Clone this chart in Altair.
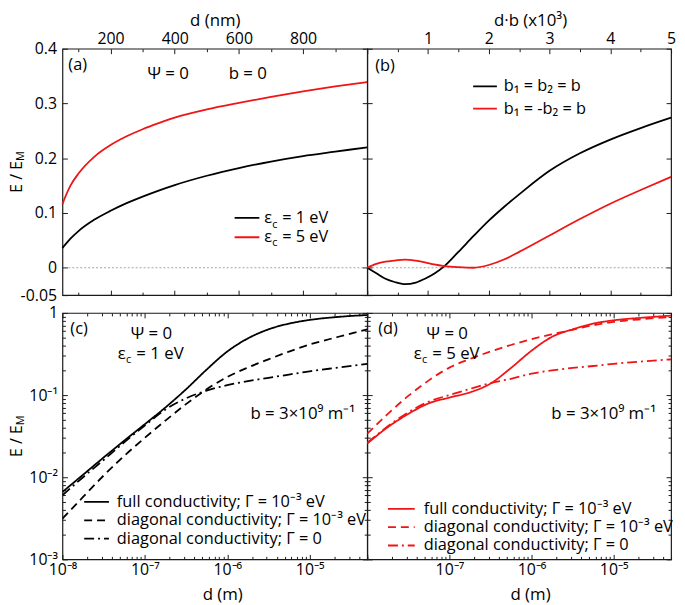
import altair as alt
import pandas as pd

FONT = "Open Sans"
BLACK = "#000000"
RED = "#f01414"
FRAME = "#1a1a1a"

# ---------------- data ----------------
# (a) d in nm, b = 0
d_nm = [50, 60, 75, 100, 150, 200, 250, 300, 350, 400, 500, 600, 700, 800, 900, 1000]
Ea_1eV = [0.036, 0.043, 0.053, 0.067, 0.088, 0.104, 0.118, 0.130, 0.141, 0.151, 0.168, 0.182, 0.194, 0.204, 0.212, 0.220]
Ea_5eV = [0.116, 0.131, 0.150, 0.172, 0.203, 0.224, 0.240, 0.253, 0.264, 0.274, 0.289, 0.301, 0.312, 0.322, 0.331, 0.339]

# (b) d*b (x10^3)
db = [0, 0.15, 0.3, 0.45, 0.62, 0.8, 0.95, 1.1, 1.27, 1.5, 1.75, 2.0, 2.25, 2.5, 3.0, 3.5, 4.0, 4.5, 5.0]
Eb_same = [0, -0.010, -0.020, -0.026, -0.030, -0.027, -0.020, -0.011, 0.003, 0.029, 0.058, 0.086, 0.111, 0.134, 0.177, 0.209, 0.234, 0.255, 0.274]
Eb_opp = [0, 0.007, 0.011, 0.013, 0.015, 0.013, 0.010, 0.006, 0.003, 0.001, 0.000, 0.005, 0.015, 0.029, 0.059, 0.089, 0.117, 0.142, 0.166]

# (c), (d) d in m, b = 3e9 1/m
d_m = [1.0e-8, 1.78e-8, 3.16e-8, 5.62e-8, 1.0e-7, 1.78e-7, 3.16e-7, 5.62e-7,
       1.0e-6, 1.78e-6, 3.16e-6, 5.62e-6, 1.0e-5, 2.24e-5, 5.0e-5]
Ec_full = [0.00661, 0.01072, 0.01738, 0.02786, 0.04426, 0.07079, 0.1175, 0.2042, 0.3388, 0.4898, 0.631, 0.7413, 0.8222, 0.8954, 0.9441]
Ec_diag = [0.003126, 0.005754, 0.01047, 0.0182, 0.0302, 0.0490, 0.0776, 0.1175, 0.166, 0.2163, 0.2723, 0.3388, 0.4121, 0.5129, 0.631]
Ec_diag0 = [0.00603, 0.0100, 0.01622, 0.02661, 0.04266, 0.06683, 0.0912, 0.1135, 0.1318, 0.1479, 0.1622, 0.1778, 0.1950, 0.2163, 0.2399]
Ed_full = [0.0257, 0.0407, 0.0589, 0.0794, 0.0933, 0.108, 0.138, 0.214, 0.347, 0.513, 0.631, 0.741, 0.813, 0.875, 0.927]
Ed_diag = [0.0339, 0.0589, 0.0977, 0.151, 0.216, 0.275, 0.339, 0.407, 0.479, 0.550, 0.624, 0.708, 0.776, 0.841, 0.895]
Ed_diag0 = [0.0263, 0.0417, 0.0617, 0.0832, 0.100, 0.119, 0.140, 0.158, 0.182, 0.200, 0.214, 0.226, 0.240, 0.257, 0.272]

SP = "\u00a0\u00a0\u200a"
ser_a = ["ε" + SP + "= 1 eV", "ε" + SP + "= 5 eV"]
ser_b = ["b₁ = b₂ = b", "b₁ = -b₂ = b"]
ser_cd = ["full conductivity; Γ = 10⁻³ eV", "diagonal conductivity; Γ = 10⁻³ eV", "diagonal conductivity; Γ = 0"]

# tick values
ticks_a = list(range(100, 1001, 100))
ticks_b = [0.5 * i for i in range(1, 11)]
ticks_ytop = [-0.05, 0, 0.1, 0.2, 0.3, 0.4]
ticks_xlog = [m * 10.0 ** k for k in range(-8, -4) for m in range(1, 10) if m * 10.0 ** k <= 5.0001e-5]
ticks_ylog = [m * 10.0 ** k for k in range(-3, 0) for m in range(1, 10)] + [1.0]

W_L, W_R, H = 308, 307, 249

# ---------------- helpers ----------------
T, t = 5, 3
MAJOR_DASH = [T, 0]
MINOR_DASH = [0, T - t, t, 0]
LOGE = "round(log(datum.value)/LN10)"
LOG_MAJOR = "abs(log(datum.value)/LN10 - " + LOGE + ") < 0.0001"
SUP = "['⁰','¹','²','³','⁴','⁵','⁶','⁷','⁸','⁹']"
LOG_LABEL = "(" + LOG_MAJOR + ") ? (" + LOGE + " == 0 ? '1' : '10⁻' + " + SUP + "[-" + LOGE + "]) : ''"


def axis(orient, values, major=None, labels=False, label_expr=None, title=None,
         label_padding=2, title_padding=1):
    kw = dict(orient=orient, values=values, offset=-T, tickSize=T, domain=False, grid=False,
              labels=labels, labelFlush=False, labelOverlap=False, tickWidth=1, tickColor=FRAME)
    if major is None:
        kw["tickDash"] = MAJOR_DASH
    else:
        kw["tickDash"] = {"condition": {"test": major, "value": MAJOR_DASH}, "value": MINOR_DASH}
    if labels:
        kw.update(labelExpr=label_expr, labelPadding=label_padding, labelFont=FONT,
                  labelFontSize=16, labelColor="black")
    if title:
        kw.update(title=title, titlePadding=title_padding, titleFont=FONT, titleFontSize=17,
                  titleFontWeight="normal", titleColor="black")
    else:
        kw["title"] = None
    return alt.Axis(**kw)


def legend(x, y, size, row_pad, label_offset, stroke=None):
    kw = dict(orient="none", legendX=x, legendY=y, title=None, symbolType="stroke",
              symbolSize=size, symbolStrokeWidth=1.8, labelFont=FONT, labelFontSize=16.5,
              labelColor="black", labelLimit=400, rowPadding=row_pad, labelOffset=label_offset,
              clipHeight=16, padding=0)
    if stroke:
        kw["symbolStrokeColor"] = stroke
    return alt.Legend(**kw)


ONE = pd.DataFrame({"k": [0]})
ZERO = pd.DataFrame({"z": [0.0]})


def txt(text, x, y, size=17, align="left", baseline="alphabetic", angle=0, color="black"):
    return alt.Chart(ONE).mark_text(text=text, font=FONT, fontSize=size, align=align,
                                    baseline=baseline, angle=angle, color=color).encode(
        x=alt.value(x), y=alt.value(y))


def eps(x, y, rest):
    return [txt("ε" + SP + rest, x, y), txt("c", x + 8.3, y + 4, size=11)]


def ytitle(h):
    return [txt("E / E", -46, h / 2 + 5, size=16, angle=270, align="center", baseline="middle"),
            txt("M", -42, h / 2 - 16, size=11, angle=270, align="center", baseline="middle")]


def long(x, ys, names, xname):
    rows = {xname: [], "E": [], "s": []}
    for yv, nm in zip(ys, names):
        rows[xname] += list(x)
        rows["E"] += list(yv)
        rows["s"] += [nm] * len(x)
    return pd.DataFrame(rows)


ys_top = alt.Scale(domain=[-0.05, 0.4], nice=False, zero=False)
ys_log = alt.Scale(type="log", domain=[1e-3, 1], nice=False)
xs_log = alt.Scale(type="log", domain=[1e-8, 5e-5], nice=False)

LBL_YTOP = "datum.value == 0 ? '0' : (datum.value < 0 ? '-0.05' : format(datum.value, '.1f'))"
zero_rule = alt.Chart(ZERO).mark_rule(color="#8a8a8a", strokeDash=[2, 2], strokeWidth=0.8).encode(
    y=alt.Y("z:Q", scale=ys_top, axis=None))

# ---------------- panel (a) ----------------
df_a = long(d_nm, [Ea_1eV, Ea_5eV], ser_a, "d")
xs_a = alt.Scale(domain=[50, 1000], nice=False, zero=False)
maj_a = "datum.value % 200 == 0"
LX_A, LY_A, RP_A = 173, 163, 2.5
lines_a = alt.Chart(df_a).mark_line(strokeWidth=1.8, interpolate="monotone").encode(
    x=alt.X("d:Q", scale=xs_a, axis=axis("top", ticks_a, maj_a, True,
                                         "(datum.value % 200 == 0 && datum.value < 1000) ? format(datum.value, 'd') : ''",
                                         "d (nm)")),
    y=alt.Y("E:Q", scale=ys_top, axis=axis("left", ticks_ytop, None, True, LBL_YTOP, label_padding=6)),
    color=alt.Color("s:N", scale=alt.Scale(domain=ser_a, range=[BLACK, RED]),
                    legend=legend(LX_A, LY_A, 625, RP_A, 4)),
)
mirror_a = alt.Chart(df_a).mark_line(opacity=0).encode(
    x=alt.X("d:Q", scale=xs_a, axis=axis("bottom", ticks_a, maj_a)),
    y=alt.Y("E:Q", scale=ys_top, axis=axis("right", ticks_ytop)),
)
row1 = LY_A + 8.25
pa = alt.layer(
    zero_rule, lines_a, mirror_a,
    txt("(a)", 6, 22, size=16.5), txt("Ψ = 0", 86, 31), txt("b = 0", 168, 31),
    *ytitle(H),
    # subscripts of the legend labels
    txt("c", LX_A + 31 + 8, row1 + 9.5, size=11),
    txt("c", LX_A + 31 + 8, row1 + 16.5 + RP_A + 9.5, size=11),
).resolve_axis(x="independent", y="independent").properties(width=W_L, height=H)

# ---------------- panel (b) ----------------
df_b = long(db, [Eb_same, Eb_opp], ser_b, "t")
xs_b = alt.Scale(domain=[0, 5], nice=False, zero=False)
maj_b = "datum.value % 1 == 0"
lines_b = alt.Chart(df_b).mark_line(strokeWidth=1.8, interpolate="monotone").encode(
    x=alt.X("t:Q", scale=xs_b, axis=axis("top", ticks_b, maj_b, True,
                                         "(datum.value % 1 == 0 && datum.value > 0) ? format(datum.value, 'd') : ''")),
    y=alt.Y("E:Q", scale=ys_top, axis=axis("left", ticks_ytop)),
    color=alt.Color("s:N", scale=alt.Scale(domain=ser_b, range=[BLACK, RED]),
                    legend=legend(106, 30, 576, 5.5, 6)),
)
mirror_b = alt.Chart(df_b).mark_line(opacity=0).encode(
    x=alt.X("t:Q", scale=xs_b, axis=axis("bottom", ticks_b, maj_b)),
    y=alt.Y("E:Q", scale=ys_top, axis=axis("right", ticks_ytop)),
)
pb = alt.layer(
    zero_rule, lines_b, mirror_b, txt("(b)", 8, 23, size=16.5),
    txt("d·b (x10³)", 165, -19, align="center", baseline="bottom"),
).resolve_axis(x="independent", y="independent").properties(width=W_R, height=H)

# ---------------- panels (c), (d) ----------------
DASHES = [[1, 0], [8, 5], [10, 4, 2, 4]]


def log_panel(ys, color, w, leg, left_labels, xlabel_expr, title_x, extras):
    df = long(d_m, ys, ser_cd, "d")
    lines = alt.Chart(df).mark_line(strokeWidth=1.8, interpolate="monotone", color=color, clip=True).encode(
        x=alt.X("d:Q", scale=xs_log, axis=axis("bottom", ticks_xlog, LOG_MAJOR, True, xlabel_expr)),
        y=alt.Y("E:Q", scale=ys_log, axis=axis("left", ticks_ylog, LOG_MAJOR, left_labels,
                                               LOG_LABEL if left_labels else None, label_padding=5)),
        strokeDash=alt.StrokeDash("s:N", scale=alt.Scale(domain=ser_cd, range=DASHES),
                                  legend=legend(*leg, stroke=color)),
    )
    mirror = alt.Chart(df).mark_line(opacity=0).encode(
        x=alt.X("d:Q", scale=xs_log, axis=axis("top", ticks_xlog, LOG_MAJOR)),
        y=alt.Y("E:Q", scale=ys_log, axis=axis("right", ticks_ylog, LOG_MAJOR)),
    )
    return alt.layer(lines, mirror, *extras,
                     txt("d (m)", title_x, H + 41, align="center")).resolve_axis(
        x="independent", y="independent").properties(width=w, height=H)


B_TXT = "b = 3×10⁹ m⁻¹"
pc = log_panel([Ec_full, Ec_diag, Ec_diag0], BLACK, W_L, (21, 183, 625, 1.5, 7), True, LOG_LABEL, 162,
               [txt("(c)", 8, 21, size=16.5), txt("Ψ = 0", 69, 26), *eps(56, 47, "= 1 eV"),
                txt(B_TXT, 190, 107), *ytitle(H)])
pd_ = log_panel([Ed_full, Ed_diag, Ed_diag0], RED, W_R, (20, 190, 729, 1.5, 8), False,
                "datum.value < 1.5e-8 ? '' : (" + LOG_LABEL + ")", 165,
                [txt("(d)", 11, 21, size=16.5), txt("Ψ = 0", 60, 26), *eps(47, 47, "= 5 eV"),
                 txt(B_TXT, 186, 107)])

chart = alt.concat(pa, pb, pc, pd_, columns=2, spacing={"row": 18, "column": 0}, bounds="flush").resolve_scale(
    x="independent", y="independent", color="independent", strokeDash="independent"
).resolve_axis(x="independent", y="independent").resolve_legend(
    color="independent", strokeDash="independent"
).properties(padding={"left": 0, "top": 0, "right": 0, "bottom": 0}).configure_view(
    stroke=FRAME, strokeWidth=1.2
)

chart.save("out.html", embed_options={"renderer": "svg", "actions": False})
